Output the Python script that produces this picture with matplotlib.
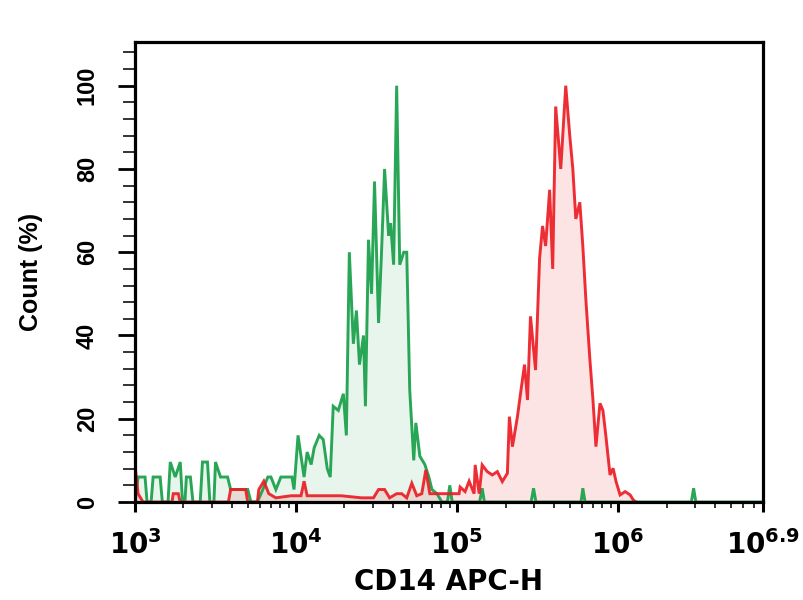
import numpy as np
import matplotlib
matplotlib.use('Agg')
import matplotlib.pyplot as plt
from matplotlib.ticker import FixedLocator, LogLocator, NullFormatter

# ---- data (log10 of CD14 APC-H intensity, percent of max count) ----
green_log = [3.000, 3.019, 3.0625, 3.075, 3.10, 3.1125, 3.156, 3.17, 3.205, 3.219, 3.25, 3.281,
             3.295, 3.31, 3.319, 3.344, 3.36, 3.405, 3.419, 3.45, 3.465, 3.49, 3.50, 3.531,
             3.575, 3.594, 3.70, 3.72, 3.76, 3.794, 3.825, 3.844, 3.875, 3.906, 3.956, 3.975,
             3.9875, 4.0125, 4.031, 4.05, 4.069, 4.094, 4.1125, 4.144, 4.169, 4.194, 4.2125,
             4.231, 4.2625, 4.294, 4.3125, 4.331, 4.356, 4.375, 4.394, 4.419, 4.431, 4.45,
             4.469, 4.4875, 4.5125, 4.531, 4.55, 4.575, 4.5875, 4.606, 4.625, 4.644, 4.669,
             4.6875, 4.706, 4.731, 4.744, 4.769, 4.80, 4.825, 4.844, 4.875, 4.906, 4.94,
             4.955, 4.97, 5.14, 5.156, 5.17, 5.46, 5.475, 5.49, 5.77, 5.781, 5.795, 6.455,
             6.469, 6.483, 6.9]
green_pct = [0, 6, 6, 0, 0, 6, 6, 0, 0, 9.6, 6, 9.6,
             0, 0, 6, 6, 0, 0, 9.6, 9.6, 0, 0, 9.6, 6,
             6, 3, 3, 0, 0, 3, 6, 6, 3, 6, 6, 6,
             3, 16, 11, 6, 12, 9, 13, 16, 15, 8, 6,
             23, 22, 26, 16, 60, 38, 46, 33, 40, 23, 63,
             50, 77, 43, 60, 80, 64, 67, 57, 100, 57, 60,
             60, 27, 10, 19, 11, 9, 6, 3, 2, 0, 0,
             4, 0, 0, 3.3, 0, 0, 3.3, 0, 0, 3.3, 0, 0,
             3.3, 0, 0]

red_log = [3.000, 3.019, 3.05, 3.23, 3.2375, 3.269, 3.28, 3.58, 3.594, 3.6875, 3.70, 3.76,
           3.769, 3.80, 3.831, 3.875, 3.969, 4.031, 4.05, 4.069, 4.156, 4.281, 4.406, 4.481,
           4.5125, 4.55, 4.581, 4.625, 4.656, 4.6875, 4.719, 4.75, 4.781, 4.806, 4.831,
           4.875, 4.9375, 4.969, 5.0125, 5.019, 5.05, 5.075, 5.106, 5.1125, 5.1375, 5.156,
           5.1875, 5.219, 5.25, 5.281, 5.3125, 5.325, 5.344, 5.375, 5.394, 5.419, 5.4375,
           5.456, 5.4875, 5.5125, 5.531, 5.55, 5.575, 5.594, 5.6125, 5.644, 5.675, 5.70,
           5.719, 5.7375, 5.7625, 5.781, 5.80, 5.825, 5.844, 5.8625, 5.8875, 5.906, 5.925,
           5.95, 5.969, 5.9875, 6.0125, 6.044, 6.075, 6.094, 6.1125]
red_pct = [9, 2, 0, 0, 2, 2, 0, 0, 3, 3, 0, 0,
           3, 5, 2, 1, 1.5, 1.5, 5, 1.5, 1.5, 1.5, 1, 1,
           3, 3, 1, 2, 2, 1, 4.5, 1.5, 2, 7.7, 2,
           2, 2, 2, 2, 3.6, 2.5, 5, 2, 8.9, 2, 8.9,
           7.3, 6.5, 7.3, 4.9, 6.9, 20.5, 13.3, 20.5, 26, 33, 24.5,
           44.6, 31.7, 58.5, 66.3, 61.5, 75, 56, 95, 80, 100, 88,
           80, 68, 72, 61.5, 48.6, 34.2, 24.5, 13.3, 23.7, 22, 15.6,
           6.5, 8.1, 4.9, 1.7, 2.5, 1.7, 0.5, 0]

x_tick_exps = [3, 4, 5, 6, 6.9]
x_tick_texts = ['3', '4', '5', '6', '6.9']
y_ticks = [0, 20, 40, 60, 80, 100]

GREEN = '#1da24e'
RED = '#ec1c24'

plt.rcParams['font.family'] = ['Liberation Sans', 'DejaVu Sans']
plt.rcParams['mathtext.fontset'] = 'dejavusans'

fig = plt.figure(figsize=(8.04, 6.0), dpi=100)
ax = fig.add_axes([135 / 804, 1 - 502 / 600, (763 - 135) / 804, (502 - 42) / 600])

gx = 10 ** np.array(green_log)
gy = np.array(green_pct)
rx = 10 ** np.array(red_log)
ry = np.array(red_pct)

ax.fill_between(gx, 0, gy, color=GREEN, alpha=0.10, lw=0)
ax.fill_between(rx, 0, ry, color=RED, alpha=0.12, lw=0)
ax.plot(gx, gy, color=GREEN, lw=2.1, alpha=0.95, solid_joinstyle='miter')
ax.plot(rx, ry, color=RED, lw=2.1, alpha=0.92, solid_joinstyle='miter')

ax.set_xscale('log')
ax.set_xlim(10 ** 3, 10 ** 6.9)
ax.set_ylim(0, 110.5)

ax.xaxis.set_major_locator(FixedLocator([10 ** e for e in x_tick_exps]))
ax.set_xticklabels([r'$\mathbf{10^{%s}}$' % t for t in x_tick_texts])
ax.xaxis.set_minor_locator(LogLocator(base=10, subs=np.arange(2, 10), numticks=20))
ax.xaxis.set_minor_formatter(NullFormatter())

ax.yaxis.set_major_locator(FixedLocator(y_ticks))
ax.yaxis.set_minor_locator(FixedLocator(np.arange(0, 110, 4)))
ax.set_yticklabels([str(v) for v in y_ticks], rotation=90, va='center',
                   fontsize=17, fontweight='bold')

ax.tick_params(axis='x', which='major', direction='out', length=7, width=2.2,
               labelsize=20, pad=13, color='black')
ax.tick_params(axis='x', which='minor', direction='out', length=4.5, width=1.4, color='#333333')
ax.tick_params(axis='y', which='major', direction='out', length=12, width=2, pad=14)
ax.tick_params(axis='y', which='minor', direction='out', length=9, width=1.4, color='#333333')

for s in ax.spines.values():
    s.set_linewidth(2.3)
    s.set_color('black')

ax.set_ylabel('Count (%)', fontsize=18, fontweight='bold', labelpad=24)
ax.set_xlabel('CD14 APC-H', fontsize=20, fontweight='bold', family='DejaVu Sans', labelpad=6)

fig.savefig('out.png', dpi=100)
